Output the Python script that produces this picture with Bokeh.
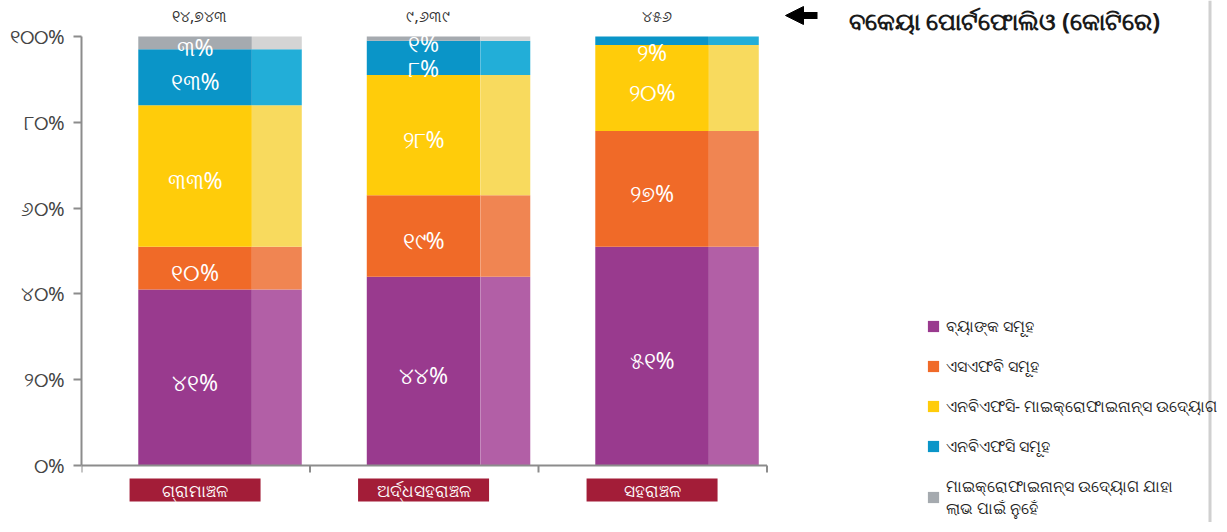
from bokeh.plotting import figure
from bokeh.models import (Range1d, FixedTicker, Legend, LegendItem, Span, Arrow,
                          NormalHead, ColumnDataSource)
from bokeh.core.properties import value
from bokeh.embed import file_html
from bokeh.resources import INLINE
import numpy as np

# ---------------- data ----------------
categories = ["ଗ୍ରାମାଞ୍ଚଳ", "ଅର୍ଦ୍ଧସହରାଞ୍ଚଳ", "ସହରାଞ୍ଚଳ"]
portfolio_labels = ["୧୪,୭୪୩", "୯,୬୩୯", "୪୫୬"]
series_keys = ["banks", "sfbs", "nbfc_mfi", "nbfcs", "nfp_mfi"]
series_names = ["ବ୍ୟାଙ୍କ ସମୂହ",
                "ଏସଏଫବି ସମୂହ",
                "ଏନବିଏଫସି- ମାଇକ୍ରୋଫାଇନାନ୍ସ ଉଦ୍ୟୋଗ",
                "ଏନବିଏଫସି ସମୂହ",
                "ମାଇକ୍ରୋଫାଇନାନ୍ସ ଉଦ୍ୟୋଗ ଯାହା\nଲାଭ ପାଇଁ ନୁହେଁ"]
banks = [41, 44, 51]
sfbs = [10, 19, 27]
nbfc_mfi = [33, 28, 20]
nbfcs = [13, 8, 2]
nfp_mfi = [3, 1, 0]
y_ticks = [0, 20, 40, 60, 80, 100]
y_tick_labels = ["୦%", "୨୦%", "୪୦%", "୬୦%", "୮୦%", "୧୦୦%"]
title_text = "ବକେୟା ପୋର୍ଟଫୋଲିଓ (କୋଟିରେ)"

# ---------------- style ----------------
dark_colors = ["#993A8E", "#F06A28", "#FFCC0A", "#0A95C8", "#A5AAAF"]
light_colors = ["#B25FA6", "#F08552", "#F8DA5E", "#22AED8", "#D4D4D4"]
FONT = "Noto Sans"
AXIS_GREY = "#8c8c8c"

OFF = 2           # observed page offset of the figure
FL = 83           # page x of frame left (y axis)
W, H = 1217, 522
LEFT = FL - OFF
PX_X = 228.5      # pixels per category slot
PX_Y = 4.29       # pixels per percent
TOP_PAD, BOTTOM_PAD = 36, 57

x_end = (W - LEFT) / PX_X
y_top = 100 + TOP_PAD / PX_Y
y_bot = -BOTTOM_PAD / PX_Y

p = figure(width=W, height=H, output_backend="svg", toolbar_location=None,
           x_range=Range1d(0, x_end), y_range=Range1d(y_bot, y_top),
           x_axis_location=None, min_border_left=LEFT, min_border_right=0,
           min_border_top=0, min_border_bottom=0, outline_line_color=None)
p.xgrid.visible = False
p.ygrid.visible = False

n = len(categories)
idx = np.arange(n)
x_dark = idx + 0.497
x_light = idx + 0.855

data = dict(x_dark=x_dark, x_light=x_light, banks=banks, sfbs=sfbs,
            nbfc_mfi=nbfc_mfi, nbfcs=nbfcs, nfp_mfi=nfp_mfi)
src = ColumnDataSource(data)

dark_r = p.vbar_stack(series_keys, x="x_dark", width=0.497, color=dark_colors,
                      line_color=None, source=src)
p.vbar_stack(series_keys, x="x_light", width=0.218, color=light_colors,
             line_color=None, source=src)

# segment labels
def odia(num):
    digits = "୦୧୨୩୪୫୬୭୮୯"
    return "".join(digits[int(c)] if c.isdigit() else c for c in str(num))

vals = np.array([banks, sfbs, nbfc_mfi, nbfcs, nfp_mfi], dtype=float)
cum = np.cumsum(vals, axis=0)
nudge = {(1, 3): 6, (2, 3): 7}
lx, ly, lt, lo = [], [], [], []
for s in range(vals.shape[0]):
    for c in range(n):
        v = vals[s, c]
        if v <= 0:
            continue
        lx.append(x_dark[c])
        ly.append(cum[s, c] - v / 2)
        lt.append(odia(int(v)) + "%")
        lo.append(4 + nudge.get((c, s), 0))
p.text(x=lx, y=ly, text=lt, y_offset=lo, text_color="white",
       text_font=value(FONT), text_font_size="23px", text_align="center",
       text_baseline="middle")

# portfolio totals above bars
p.text(x=x_dark + 0.02, y=[100] * n, text=portfolio_labels, y_offset=-21,
       text_color="#333333", text_font=value(FONT), text_font_size="16px",
       text_align="center", text_baseline="middle")

# x axis line and ticks
bounds = np.arange(n + 1)
p.segment(x0=[0], y0=[0], x1=[n], y1=[0], line_color=AXIS_GREY, line_width=2)
p.segment(x0=bounds, y0=[0] * (n + 1), x1=bounds, y1=[-7 / PX_Y] * (n + 1),
          line_color=AXIS_GREY, line_width=2)

# category boxes
cat_y = -24.5 / PX_Y
p.rect(x=x_dark, y=[cat_y] * n, width=131, height=23, width_units="screen",
       height_units="screen", fill_color="#A31D38", line_color=None)
p.text(x=x_dark, y=[cat_y] * n, text=categories, text_color="white",
       text_font=value(FONT), text_font_size="17px", text_align="center",
       text_baseline="middle")

# y axis
ya = p.yaxis[0]
ya.bounds = (0, 100)
ya.ticker = FixedTicker(ticks=y_ticks)
ya.major_label_overrides = {t: l for t, l in zip(y_ticks, y_tick_labels)}
ya.major_tick_out = 8
ya.major_tick_in = 0
ya.minor_tick_line_color = None
ya.axis_line_color = AXIS_GREY
ya.axis_line_width = 2
ya.major_tick_line_color = AXIS_GREY
ya.major_tick_line_width = 2
ya.major_label_text_color = "#444444"
ya.major_label_text_font = FONT
ya.major_label_text_font_size = "20px"
ya.major_label_standoff = 9

# title with arrow
ty = 100 + 21 / PX_Y
p.add_layout(Arrow(end=NormalHead(size=18, fill_color="black", line_color="black"),
                   x_start=(819 - FL) / PX_X, y_start=ty,
                   x_end=(787 - FL) / PX_X, y_end=ty,
                   line_width=7, line_color="black"))
p.text(x=[(850 - FL) / PX_X], y=[100], text=[title_text], y_offset=-16,
       text_color="#1a1a1a", text_font=value(FONT), text_font_size="24px",
       text_font_style="bold", text_align="left", text_baseline="middle")

# right frame line
p.add_layout(Span(location=(1211.5 - FL) / PX_X, dimension="height",
                  line_color="#d0d0d0", line_width=3))

# legend
items = [LegendItem(label=series_names[i], renderers=[dark_r[i]])
         for i in range(len(series_names))]
legend = Legend(items=items, location=(928 - FL, 3), padding=0, margin=0,
                spacing=18, glyph_width=14, glyph_height=14, label_height=18,
                label_standoff=6, label_text_font=FONT,
                label_text_line_height=1.5,
                label_text_font_size="15.5px", label_text_color="#222222",
                border_line_color=None, background_fill_alpha=0)
p.add_layout(legend)

open("out.html", "w").write(file_html(p, INLINE))
